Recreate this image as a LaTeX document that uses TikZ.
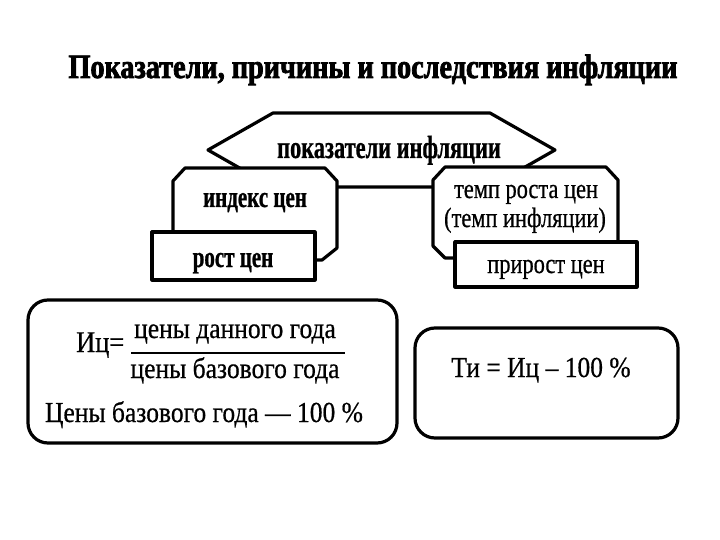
\documentclass[tikz,border=0pt]{standalone}
\usepackage{fontspec}
\setmainfont{Liberation Serif}
\newfontfamily\titlefont[FakeStretch=0.83,FakeBold=2.2]{Liberation Serif Bold}
\newfontfamily\boldcond[FakeStretch=0.70,FakeBold=0.8]{Liberation Serif Bold}
\newfontfamily\regcond[FakeStretch=0.80,FakeBold=0.6]{Liberation Serif}
\newfontfamily\formfont[FakeStretch=0.88,FakeBold=0.6]{Liberation Serif}
\begin{document}
\begin{tikzpicture}[x=1pt,y=-1pt,
  shapeline/.style={draw=black,line width=3.2pt,fill=white,line join=round},
  txt/.style={inner sep=0pt,anchor=base},
  boldtxt/.style={txt,font=\boldcond\fontsize{30}{33}\selectfont},
  regtxt/.style={txt,font=\regcond\fontsize{28}{31}\selectfont},
  formtxt/.style={txt,font=\formfont\fontsize{29}{32}\selectfont}]
\useasboundingbox[fill=white] (0,0) rectangle (720,540);
% title
\node[txt,font=\titlefont\fontsize{34}{38}\selectfont] (title) at (373,78) {Показатели, причины и последствия инфляции};
% hexagon
\draw[shapeline] (273,113) -- (490,113) -- (555,150) -- (490,187) -- (273,187) -- (208,150) -- cycle;
\node[txt,font=\boldcond\fontsize{32}{35}\selectfont] (hex) at (389,158) {показатели инфляции};
% left octagon
\draw[shapeline] (185,168) -- (325,168) -- (337,181) -- (337,248) -- (322,260) -- (185,260) -- (173,248) -- (173,181) -- cycle;
\node[boldtxt] (index) at (255,207) {индекс цен};
% right octagon
\draw[shapeline] (445,167) -- (606,167) -- (618,180) -- (618,246) -- (606,258) -- (445,258) -- (433,246) -- (433,180) -- cycle;
\node[regtxt] (tempo1) at (526,198) {темп роста цен};
\node[regtxt] (tempo2) at (525,227) {(темп инфляции)};
% small rects
\draw[shapeline] (152,232) rectangle (315,280);
\node[boldtxt] (rost) at (233,267) {рост цен};
\draw[shapeline] (455,242) rectangle (637,287);
\node[regtxt] (prirost) at (546,273) {прирост цен};
% bottom left box
\draw[shapeline,rounded corners=20pt] (28,300) rectangle (397,443);
\node[txt,font=\formfont\fontsize{30}{33}\selectfont,anchor=base west] (ic) at (76,352) {Иц=};
\draw[line width=2.2pt] (131,353) -- (345,353);
\node[formtxt] (num) at (235,338) {цены данного года};
\node[formtxt] (den) at (235,378) {цены базового года};
\node[formtxt] (base) at (204,422) {Цены базового года — 100 \%};
% bottom right box
\draw[shapeline,rounded corners=20pt] (415,328) rectangle (678,438);
\node[formtxt] (ti) at (541,377) {Ти = Иц – 100 \%};
\end{tikzpicture}
\end{document}
